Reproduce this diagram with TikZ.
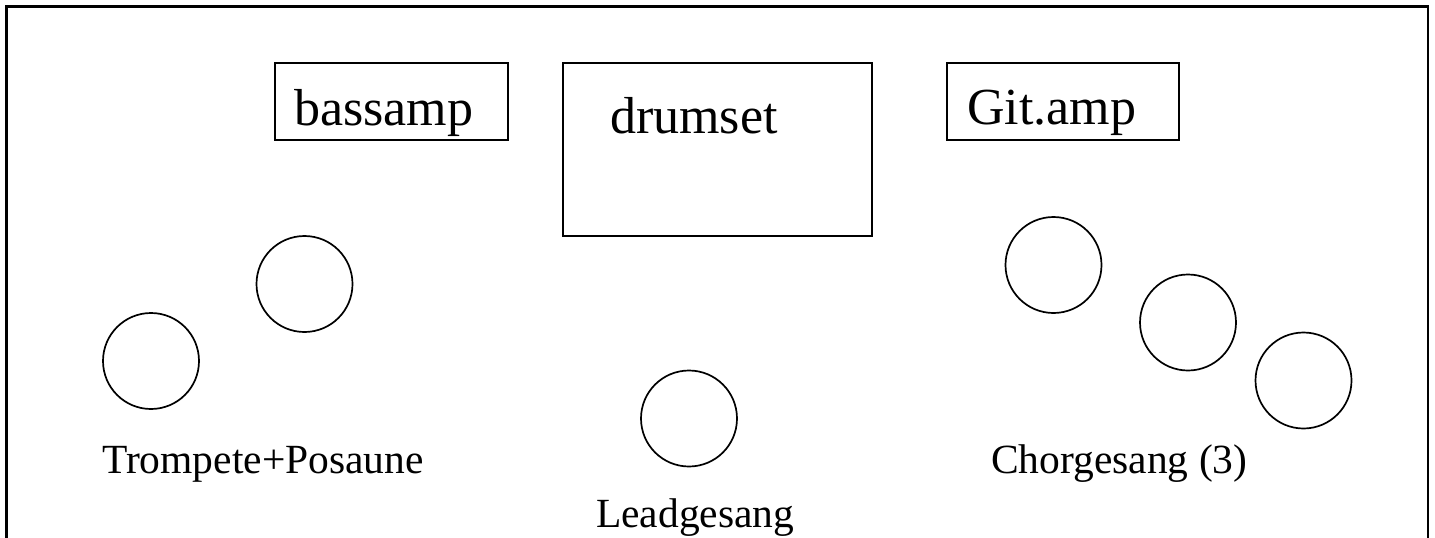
\documentclass[tikz,border=0pt]{standalone}
\usepackage{fontspec}
\setmainfont{Liberation Serif}
\begin{document}
\begin{tikzpicture}[x=1pt,y=-1pt,
  box/.style={draw,line width=1.8pt,rectangle,inner sep=0pt},
  spot/.style={draw,line width=1.7pt,circle,minimum size=96pt,inner sep=0pt},
  boxtext/.style={anchor=base west,inner sep=0pt,font=\fontsize{52}{60}\selectfont},
  label/.style={anchor=base west,inner sep=0pt,font=\fontsize{41.5}{48}\selectfont}]
\useasboundingbox (0,0) rectangle (1435,538);
\fill[white] (0,0) rectangle (1435,538);
% outer frame (bottom edge lies below the picture)
\coordinate (fbl) at (6.5,560);
\coordinate (ftl) at (6.5,6.5);
\coordinate (ftr) at (1428,6.5);
\coordinate (fbr) at (1428,560);
\draw[line width=2.3pt] (fbl) -- (ftl) -- (ftr) -- (fbr);
% boxes
\node[box,minimum width=233pt,minimum height=77pt] (bassamp) at (391.5,101.5) {};
\node[box,minimum width=309pt,minimum height=173pt] (drumset) at (717.5,149.5) {};
\node[box,minimum width=232pt,minimum height=77pt] (gitamp) at (1063,101.5) {};
\node[boxtext] (tbass) at (294,125) {bassamp};
\node[boxtext] (tdrum) at (610,133) {drumset};
\node[boxtext] (tgit) at (967,124) {Git.amp};
% circles
\node[spot] (t1) at (151,361) {};
\node[spot] (t2) at (304.5,284) {};
\node[spot] (lead) at (689,418.5) {};
\node[spot] (c1) at (1053.5,265) {};
\node[spot] (c2) at (1188,322.5) {};
\node[spot] (c3) at (1303.5,380.5) {};
% labels
\node[label] (ltp) at (102,473) {Trompete+Posaune};
\node[label] (llead) at (596,527) {Leadgesang};
\node[label] (lchor) at (991,473) {Chorgesang (3)};
\end{tikzpicture}
\end{document}
